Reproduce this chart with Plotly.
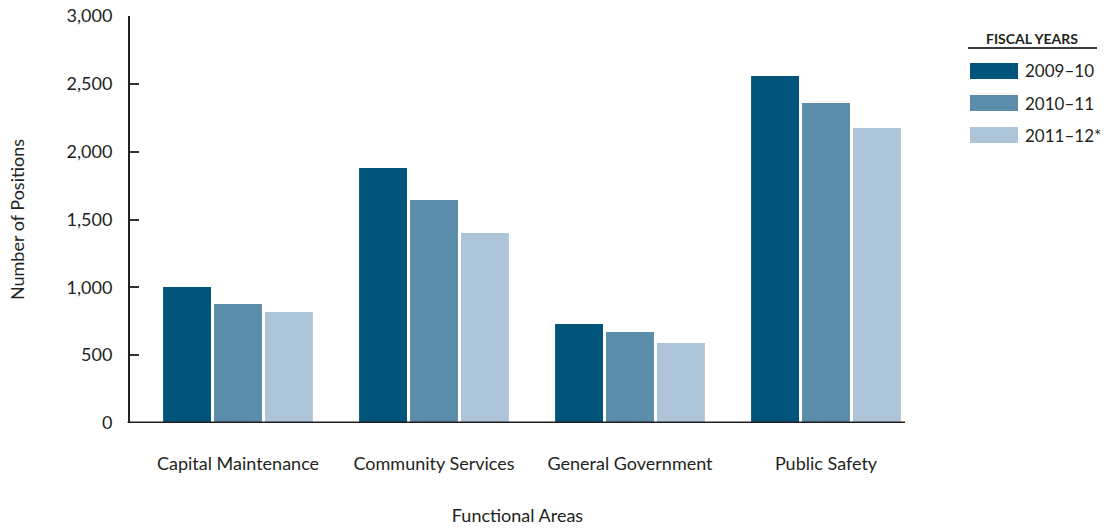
import plotly.graph_objects as go

categories = ["Capital Maintenance", "Community Services", "General Government", "Public Safety"]
series_names = ["2009–10", "2010–11", "2011–12*"]
fy_2009_10 = [1002, 1879, 730, 2557]
fy_2010_11 = [877, 1643, 671, 2358]
fy_2011_12 = [818, 1400, 590, 2174]
y_ticks = [0, 500, 1000, 1500, 2000, 2500, 3000]
y_tick_labels = ["0", "500", "1,000", "1,500", "2,000", "2,500", "3,000"]

colors = ["#02557A", "#5B8DAB", "#AEC5D9"]
values = [fy_2009_10, fy_2010_11, fy_2011_12]
FONT = "Lato"
TXT = "#231F20"
FS = 18

FW, FH = 1106, 529

fig = go.Figure()
for name, vals, c in zip(series_names, values, colors):
    fig.add_trace(go.Bar(x=categories, y=vals, name=name, marker=dict(color=c, line=dict(width=0)),
                         showlegend=False))

# Plot area geometry in page pixels
L, R, T, B = 130, 905, 16, 423
W, H = R - L, B - T
def px(x):
    return (x - L) / W
def py(y):
    return (B - y) / H

shapes = []
annotations = []
annotations.append(dict(x=px(1032), y=py(39), xref="paper", yref="paper", text="<b>FISCAL YEARS</b>",
                        showarrow=False, font=dict(family=FONT, size=14, color=TXT), xanchor="center", yanchor="middle"))
shapes.append(dict(type="line", xref="paper", yref="paper", x0=px(968), x1=px(1097), y0=py(48), y1=py(48),
                   line=dict(color="#3a3a3a", width=2)))
sw_tops = [63, 95, 127]
for name, c, t in zip(series_names, colors, sw_tops):
    shapes.append(dict(type="rect", xref="paper", yref="paper", x0=px(970), x1=px(1018), y0=py(t + 16), y1=py(t),
                       fillcolor=c, line=dict(width=0)))
    annotations.append(dict(x=px(1023), y=py(t + 8), xref="paper", yref="paper", text=name, showarrow=False,
                            font=dict(family=FONT, size=17, color=TXT), xanchor="left", yanchor="middle"))

fig.update_layout(
    width=FW, height=FH,
    margin=dict(l=L, r=FW - R, t=T, b=FH - B),
    paper_bgcolor="white", plot_bgcolor="white",
    barmode="group", bargap=0.22, bargroupgap=0.06,
    font=dict(family=FONT, size=FS, color=TXT),
    shapes=shapes, annotations=annotations,
    xaxis=dict(range=[-0.551, 3.403], showgrid=False, zeroline=False, showline=False, automargin=False,
               ticks="outside", ticklen=24, tickcolor="rgba(0,0,0,0)",
               tickfont=dict(family=FONT, size=FS, color=TXT),
               title=dict(text="Functional Areas", font=dict(family=FONT, size=FS, color=TXT), standoff=36)),
    yaxis=dict(range=[0, 3000], tickvals=y_ticks, ticktext=y_tick_labels, showgrid=False, zeroline=False,
               automargin=False, ticklabeloverflow="allow",
               showline=True, linecolor="#231F20", linewidth=2, ticks="inside", ticklen=9, tickwidth=1.5,
               tickcolor="#333333", ticklabelstandoff=12,
               tickfont=dict(family=FONT, size=FS, color=TXT),
               title=dict(text="Number of Positions", font=dict(family=FONT, size=FS, color=TXT), standoff=37)),
)
fig.add_shape(type="line", xref="paper", yref="y", x0=-0.003, x1=1, y0=0, y1=0,
              line=dict(color="#231F20", width=3), layer="above")

fig.write_html("out.html", config={"displayModeBar": False},
               post_script="document.body.style.margin='0';document.body.style.overflow='hidden';")
